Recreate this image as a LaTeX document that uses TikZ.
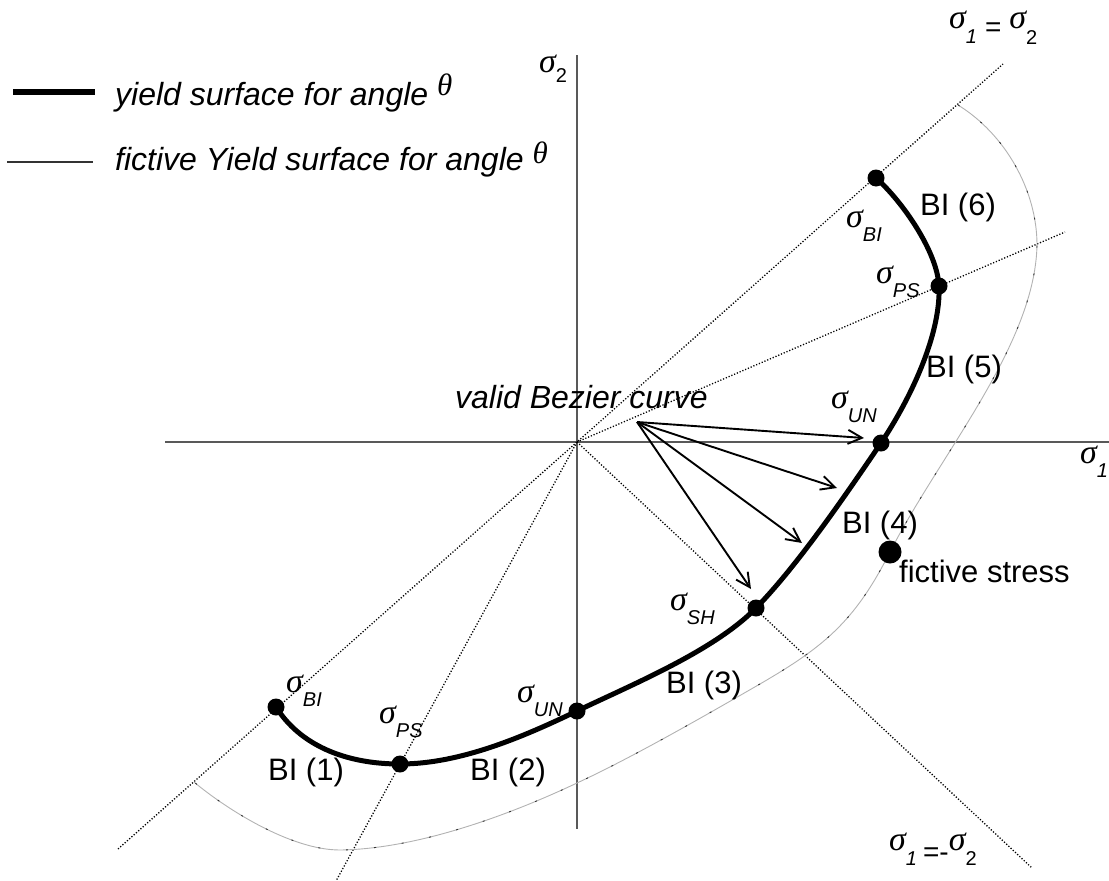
\documentclass[tikz,border=0pt]{standalone}
\usepackage{fontspec}
\setmainfont{Liberation Sans}
\newfontfamily\lserif{Liberation Serif}
\usetikzlibrary{arrows.meta}
\newcommand{\sgm}{{\lserif\itshape\fontsize{34}{34}\selectfont σ}}
\newcommand{\subf}{\fontsize{20}{20}\selectfont}
\newcommand{\sigsub}[1]{\sgm\raisebox{-14pt}{\subf\itshape #1}}
\newcommand{\thet}{{\lserif\itshape\fontsize{31}{31}\selectfont θ}}
\begin{document}
\begin{tikzpicture}[x=1pt,y=-1pt,
  every node/.style={inner sep=0pt,font=\fontsize{31}{37}\selectfont},
  itext/.style={anchor=base west,font=\fontsize{32}{38}\selectfont\itshape},
  axisline/.style={line width=1.3pt,black!65},
  dotline/.style={line width=1.3pt,dash pattern=on 1.2pt off 1.8pt},
  yieldline/.style={line width=5pt,line join=round,line cap=round},
  fictline/.style={line width=0.9pt,black!30},
  fictmarks/.style={line width=0.9pt,dash pattern=on 2pt off 26pt,black!80},
  arr/.style={line width=1.9pt,-{Straight Barb[length=14pt,width=14pt,line width=1.9pt]}},
  dotnode/.style={circle,fill=black,minimum size=17pt},
  bigdot/.style={circle,fill=black,minimum size=23pt},
  sigl/.style={anchor=base west},
  bil/.style={anchor=base}]
\useasboundingbox (0,0) rectangle (1109,881);

% key points
\coordinate (O) at (577,442);
\coordinate (BItop) at (876,178);
\coordinate (PSup) at (939,286);
\coordinate (UNr) at (881,443);
\coordinate (SH) at (756,608);
\coordinate (UNb) at (577,711);
\coordinate (PSlo) at (400,764);
\coordinate (BIlo) at (276,707);
\coordinate (fict) at (890,552);

% axes
\coordinate (xL) at (165,442);
\coordinate (xR) at (1109,442);
\coordinate (yT) at (577,55);
\coordinate (yB) at (577,829);
\draw[axisline] (xL) -- (xR);
\draw[axisline] (yT) -- (yB);

% dotted rays
\coordinate (L1a) at (1003,64);
\coordinate (L1b) at (118,849);
\coordinate (L2a) at (1065,232);
\coordinate (L3a) at (1032,868);
\coordinate (L4a) at (336,881);
\draw[dotline] (L1b) -- (O) -- (L1a);
\draw[dotline] (O) -- (L2a);
\draw[dotline] (O) -- (L3a);
\draw[dotline] (O) -- (L4a);

% fictive yield surface
\coordinate (fA) at (958,105);
\coordinate (fR) at (1037,245);
\coordinate (fG) at (753,688);
\coordinate (fH) at (577,783);
\coordinate (fB) at (340,850);
\coordinate (fE) at (194,782);
\foreach \sty in {fictline,fictmarks}{
\draw[\sty] (fA) .. controls (1005,134) and (1037,190) .. (fR)
  .. controls (1035,345) and (940,454) .. (fict)
  .. controls (854,623) and (823,648) .. (fG)
  .. controls (701,718) and (631,758) .. (fH)
  .. controls (505,817) and (415,849) .. (fB)
  .. controls (290,850) and (225,808) .. (fE);
}

% yield surface
\draw[yieldline] (BItop) .. controls (902,201) and (937,251) .. (PSup)
  .. controls (941,336) and (909,401) .. (UNr)
  .. controls (847,493) and (798,565) .. (SH)
  .. controls (714,651) and (631,685) .. (UNb)
  .. controls (523,737) and (460,764) .. (PSlo)
  .. controls (345,764) and (300,745) .. (BIlo);

% arrows
\coordinate (src) at (637,422);
\coordinate (t1) at (864,438);
\coordinate (t2) at (837,488);
\coordinate (t3) at (802,543);
\coordinate (t4) at (751,589);
\draw[arr] (src) -- (t1);
\draw[arr] (src) -- (t2);
\draw[arr] (src) -- (t3);
\draw[arr] (src) -- (t4);

% dots
\node[dotnode] (dBItop) at (BItop) {};
\node[dotnode] (dPSup) at (PSup) {};
\node[dotnode] (dUNr) at (UNr) {};
\node[dotnode] (dSH) at (SH) {};
\node[dotnode] (dUNb) at (UNb) {};
\node[dotnode] (dPSlo) at (PSlo) {};
\node[dotnode] (dBIlo) at (BIlo) {};
\node[bigdot] (dfict) at (fict) {};

% sigma labels
\node[sigl] (sBItop) at (846,227) {\sigsub{BI}};
\node[sigl] (sPSup) at (876,283) {\sigsub{PS}};
\node[sigl] (sUNr) at (831,408) {\sigsub{UN}};
\node[sigl] (sSH) at (670,610) {\sigsub{SH}};
\node[sigl] (sUNb) at (517,702) {\sigsub{UN}};
\node[sigl] (sPSlo) at (379,723) {\sigsub{PS}};
\node[sigl] (sBIlo) at (286,692) {\sigsub{BI}};

% axis labels
\node[sigl] (s2) at (539,72) {\sgm\raisebox{-10pt}{\subf 2}};
\node[sigl] (s1) at (1080,463) {\sgm\raisebox{-14pt}{\subf\itshape 1}};
\node[sigl] (seq) at (949,28) {\sgm\raisebox{-15pt}{\subf\itshape 1}\hspace{8pt}\raisebox{-8pt}{\fontsize{28}{28}\selectfont =}\hspace{8pt}\sgm\raisebox{-16pt}{\subf 2}};
\node[sigl] (sneq) at (889,850) {\sgm\raisebox{-15pt}{\subf\itshape 1}\hspace{6pt}\raisebox{-11pt}{\fontsize{28}{28}\selectfont =-}\sgm\raisebox{-15pt}{\subf 2}};

% BI labels
\node[bil] (b6) at (958,215) {BI (6)};
\node[bil] (b5) at (964,377) {BI (5)};
\node[bil] (b4) at (880,533) {BI (4)};
\node[bil] (b3) at (704,693) {BI (3)};
\node[bil] (b2) at (508,780) {BI (2)};
\node[bil] (b1) at (306,780) {BI (1)};

% other texts
\node[anchor=base west] (fs) at (899,582) {fictive stress};
\node[itext] (vb) at (455,408) {valid Bezier curve};

% legend
\coordinate (lg1a) at (13,92);
\coordinate (lg1b) at (95,92);
\coordinate (lg2a) at (7,162);
\coordinate (lg2b) at (93,162);
\draw[line width=6pt] (lg1a) -- (lg1b);
\draw[line width=1.2pt,black!80] (lg2a) -- (lg2b);
\node[itext] (lgt1) at (115,105) {yield surface for angle \raisebox{10pt}{\thet}};
\node[itext] (lgt2) at (115,170) {fictive Yield surface for angle \raisebox{7pt}{\thet}};
\end{tikzpicture}
\end{document}
